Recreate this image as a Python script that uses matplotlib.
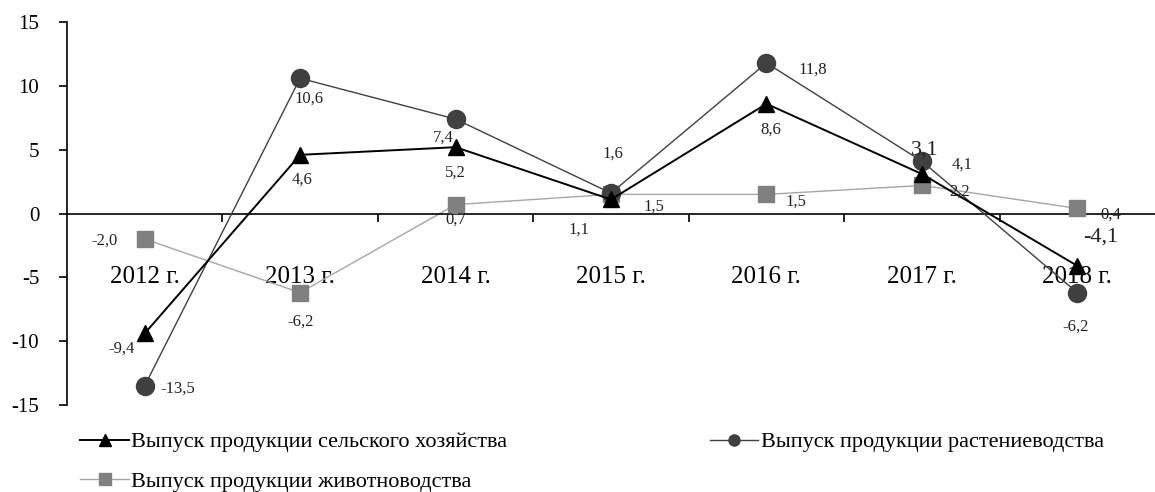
import matplotlib.pyplot as plt
from matplotlib.lines import Line2D
from matplotlib.ticker import FixedLocator

plt.rcParams['font.family'] = ['Liberation Serif', 'DejaVu Serif']

# ── Data ──────────────────────────────────────────────────────────────────
years = ["2012 г.", "2013 г.", "2014 г.", "2015 г.", "2016 г.", "2017 г.", "2018 г."]
agri = [-9.4, 4.6, 5.2, 1.1, 8.6, 3.1, -4.1]
crop = [-13.5, 10.6, 7.4, 1.6, 11.8, 4.1, -6.2]
live = [-2.0, -6.2, 0.7, 1.5, 1.5, 2.2, 0.4]

lbl_agri = "Выпуск продукции сельского хозяйства"
lbl_crop = "Выпуск продукции растениеводства"
lbl_live = "Выпуск продукции животноводства"

# label offsets in pixels (dx, dy)
off_agri = [(-23, -15), (2, -25), (0, -25), (-32, -30), (4, -26), (3, 24), (23, 29)]
off_crop = [(33, -3), (9, -20), (-12, -19), (2, 39), (46, -7), (40, -3), (-2, -34)]
off_live = [(-40, -2), (0, -29), (0, -15), (43, -12), (29, -7), (38, -6), (33, -6)]
big_agri = [False, False, False, False, False, True, True]

# ── Plot ──────────────────────────────────────────────────────────────────
fig = plt.figure(figsize=(11.55, 4.92), dpi=100)
ax = fig.add_axes([0.058, 0.177, 0.942, 0.778])

x = list(range(len(years)))
ax.plot(x, live, "-", color="#a6a6a6", lw=1.0, zorder=2)
ax.plot(x, live, "s", color="#808080", ms=12, zorder=3)
ax.plot(x, crop, "-", color="#404040", lw=1.0, zorder=4)
ax.plot(x, crop, "o", color="#404040", ms=13, zorder=5)
ax.plot(x, agri, "-", color="black", lw=1.4, zorder=6)
ax.plot(x, agri, "^", color="black", ms=12, zorder=7)

def fmt(v):
    return f"{v:.1f}".replace(".", ",")

for vals, offs in ((live, off_live), (crop, off_crop)):
    for i, v in enumerate(vals):
        ax.annotate(fmt(v), (i, v), xytext=offs[i], textcoords="offset pixels",
                    ha="center", va="center", fontsize=12, color="#222222", zorder=8)
for i, v in enumerate(agri):
    ax.annotate(fmt(v), (i, v), xytext=off_agri[i], textcoords="offset pixels",
                ha="center", va="center", fontsize=16 if big_agri[i] else 12,
                color="#222222", zorder=8)

ax.set_xlim(-0.5, 6.5)
ax.set_ylim(-15, 15)
ax.set_yticks([-15, -10, -5, 0, 5, 10, 15])
ax.set_yticklabels(["-15", "-10", "-5", "0", "5", "10", "15"], fontsize=15)
ax.tick_params(axis="y", direction="out", length=6, width=1.2, pad=14)

for s in ("top", "right"):
    ax.spines[s].set_visible(False)
ax.spines["left"].set_linewidth(1.2)
ax.spines["bottom"].set_position(("data", 0))
ax.spines["bottom"].set_linewidth(1.2)

ax.set_xticks(x)
ax.set_xticklabels(years, fontsize=18)
ax.tick_params(axis="x", which="major", length=0, pad=38)
ax.xaxis.set_minor_locator(FixedLocator([0.5, 1.5, 2.5, 3.5, 4.5, 5.5]))
ax.tick_params(axis="x", which="minor", direction="out", length=6, width=1.2)

h_agri = Line2D([], [], color="black", lw=1.4, marker="^", ms=8)
h_crop = Line2D([], [], color="#404040", lw=1.0, marker="o", ms=8)
h_live = Line2D([], [], color="#a6a6a6", lw=1.0, marker="s", ms=8,
                markerfacecolor="#808080", markeredgecolor="#808080")

leg1 = fig.legend([h_agri, h_live], [lbl_agri, lbl_live], loc="upper left",
                  bbox_to_anchor=(0.052, 0.163), frameon=False, fontsize=16,
                  handlelength=2.2, handletextpad=0.1, labelspacing=0.85)
leg2 = fig.legend([h_crop], [lbl_crop], loc="upper left",
                  bbox_to_anchor=(0.597, 0.163), frameon=False, fontsize=16,
                  handlelength=2.2, handletextpad=0.1)

fig.savefig("out.png", dpi=100)
